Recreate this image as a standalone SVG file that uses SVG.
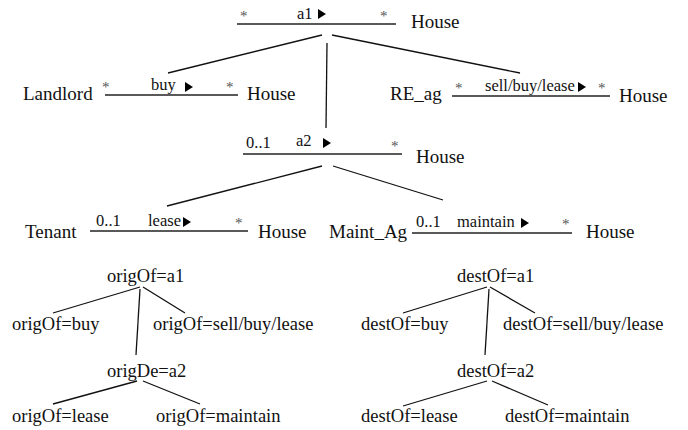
<svg xmlns="http://www.w3.org/2000/svg" width="688" height="430" viewBox="0 0 688 430">
<style>
text{font-family:'Liberation Serif','DejaVu Serif',serif}
.n{font-size:19px;fill:#111}
.l{font-size:16.5px;fill:#111}
.s{font-size:15px;fill:#555}
.t{font-size:18.5px;fill:#111}
.a{stroke:#222;stroke-width:1.5;fill:none}
.c{stroke:#111;stroke-width:1.3;fill:none}
.tri{fill:#000}
</style>
<rect width="688" height="430" fill="#fff"/>
<g id="connectors">
<line class="c" x1="322" y1="35" x2="168" y2="73"/>
<line class="c" x1="332" y1="35" x2="520" y2="73"/>
<line class="c" x1="327" y1="43" x2="326" y2="128"/>
<line class="c" x1="322" y1="166" x2="167" y2="206"/>
<line class="c" x1="333" y1="166" x2="443" y2="200"/>
<line class="c" x1="140" y1="287" x2="53" y2="313"/>
<line class="c" x1="143" y1="287" x2="185" y2="313"/>
<line class="c" x1="140" y1="289" x2="136" y2="355"/>
<line class="c" x1="137" y1="381" x2="53" y2="404"/>
<line class="c" x1="143" y1="381" x2="200" y2="404"/>
<line class="c" x1="487" y1="287" x2="403" y2="313"/>
<line class="c" x1="490" y1="287" x2="535" y2="313"/>
<line class="c" x1="489" y1="289" x2="485" y2="355"/>
<line class="c" x1="487" y1="381" x2="403" y2="406"/>
<line class="c" x1="492" y1="381" x2="548" y2="405"/>
</g>
<g id="a1">
<line class="a" x1="237" y1="24" x2="396" y2="24"/>
<text class="s" x="240" y="21">*</text>
<text class="l" x="297" y="19">a1</text>
<polygon class="tri" points="318,9 318,19 326,14"/>
<text class="s" x="380" y="21">*</text>
<text class="n" x="411" y="28">House</text>
</g>
<g id="buy">
<text class="n" x="23" y="100">Landlord</text>
<line class="a" x1="105" y1="95" x2="238" y2="95"/>
<text class="s" x="102" y="92">*</text>
<text class="l" x="151" y="90">buy</text>
<polygon class="tri" points="185,82 185,92 193,87"/>
<text class="s" x="226" y="92">*</text>
<text class="n" x="247" y="100">House</text>
</g>
<g id="sellbuylease">
<text class="n" x="390" y="100">RE_ag</text>
<line class="a" x1="452" y1="96" x2="610" y2="96"/>
<text class="s" x="455" y="93">*</text>
<text class="l" x="485" y="91">sell/buy/lease</text>
<polygon class="tri" points="578,82 578,92 586,87"/>
<text class="s" x="598" y="93">*</text>
<text class="n" x="619" y="102">House</text>
</g>
<g id="a2">
<line class="a" x1="243" y1="154" x2="402" y2="154"/>
<text class="l" x="246" y="148">0..1</text>
<text class="l" x="296" y="146">a2</text>
<polygon class="tri" points="323,138 323,148 331,143"/>
<text class="s" x="391" y="151">*</text>
<text class="n" x="416" y="163">House</text>
</g>
<g id="lease">
<text class="n" x="25" y="238">Tenant</text>
<line class="a" x1="90" y1="231" x2="248" y2="231"/>
<text class="l" x="96" y="226">0..1</text>
<text class="l" x="148" y="226">lease</text>
<polygon class="tri" points="183,217 183,227 191,222"/>
<text class="s" x="235" y="228">*</text>
<text class="n" x="258" y="238">House</text>
</g>
<g id="maintain">
<text class="n" x="329" y="238">Maint_Ag</text>
<line class="a" x1="412" y1="233" x2="572" y2="233"/>
<text class="l" x="416" y="227">0..1</text>
<text class="l" x="457" y="227">maintain</text>
<polygon class="tri" points="521,218 521,228 529,223"/>
<text class="s" x="562" y="229">*</text>
<text class="n" x="586" y="238">House</text>
</g>
<g id="origTree">
<text class="t" x="107" y="282">origOf=a1</text>
<text class="t" x="12" y="330">origOf=buy</text>
<text class="t" x="153" y="330">origOf=sell/buy/lease</text>
<text class="t" x="107" y="377">origDe=a2</text>
<text class="t" x="12" y="422">origOf=lease</text>
<text class="t" x="156" y="422">origOf=maintain</text>
</g>
<g id="destTree">
<text class="t" x="457" y="282">destOf=a1</text>
<text class="t" x="361" y="330">destOf=buy</text>
<text class="t" x="503" y="330">destOf=sell/buy/lease</text>
<text class="t" x="457" y="377">destOf=a2</text>
<text class="t" x="361" y="422">destOf=lease</text>
<text class="t" x="505" y="422">destOf=maintain</text>
</g>
</svg>
